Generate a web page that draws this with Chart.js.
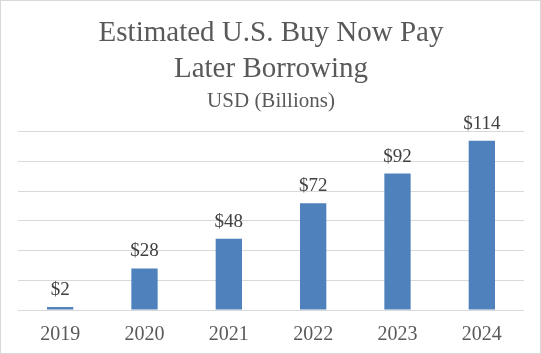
<!DOCTYPE html>
<html>
<head>
<meta charset="utf-8">
<script src="https://cdn.jsdelivr.net/npm/chart.js@4"></script>
<style>
  html, body { margin: 0; padding: 0; background: #fff; }
  #wrap {
    position: relative;
    width: 539px; height: 352px;
    border: 1px solid #d9d9d9;
  }
</style>
</head>
<body>
<div id="wrap"><canvas id="bnplChart"></canvas></div>
<script>
// Estimated U.S. BNPL borrowing, USD billions
const years = ['2019', '2020', '2021', '2022', '2023', '2024'];
const borrowing = [2, 28, 48, 72, 92, 114];
const titleLines = ['Estimated U.S. Buy Now Pay', 'Later Borrowing'];
const subtitleText = 'USD (Billions)';

const serif = "'Liberation Serif', 'DejaVu Serif', serif";
const textGray = '#595959';

// draw "$NN" above each bar
const valueLabels = {
    id: 'valueLabels',
    afterDatasetsDraw(chart) {
        const ctx = chart.ctx;
        const meta = chart.getDatasetMeta(0);
        ctx.save();
        ctx.font = '19px ' + serif;
        ctx.fillStyle = '#404040';
        ctx.textAlign = 'center';
        ctx.textBaseline = 'alphabetic';
        meta.data.forEach((bar, i) => {
            ctx.fillText('$' + borrowing[i], bar.x, bar.y - 12);
        });
        ctx.restore();
    }
};

new Chart(document.getElementById('bnplChart'), {
    type: 'bar',
    data: {
        labels: years,
        datasets: [{
            data: borrowing,
            backgroundColor: '#4f81bd',
            barPercentage: 0.39,
            categoryPercentage: 0.8
        }]
    },
    options: {
        responsive: true,
        maintainAspectRatio: false,
        animation: false,
        layout: { padding: { left: 17, right: 16, top: 0, bottom: 1 } },
        plugins: {
            legend: { display: false },
            tooltip: { enabled: false },
            title: {
                display: true,
                text: titleLines,
                color: textGray,
                font: { family: serif, size: 29, weight: 'normal', lineHeight: 1.22 },
                padding: { top: 15, bottom: 2 }
            },
            subtitle: {
                display: true,
                text: subtitleText,
                color: textGray,
                font: { family: serif, size: 21, weight: 'normal', lineHeight: 1.2 },
                padding: { top: 0, bottom: 18 }
            }
        },
        scales: {
            x: {
                grid: { display: false },
                border: { display: false },
                ticks: { color: textGray, font: { family: serif, size: 20 }, padding: 5 }
            },
            y: {
                min: 0,
                max: 120,
                ticks: { display: false, stepSize: 20 },
                grid: { color: '#d9d9d9', lineWidth: 1, drawTicks: false },
                border: { display: false }
            }
        }
    },
    plugins: [valueLabels]
});
</script>
</body>
</html>
